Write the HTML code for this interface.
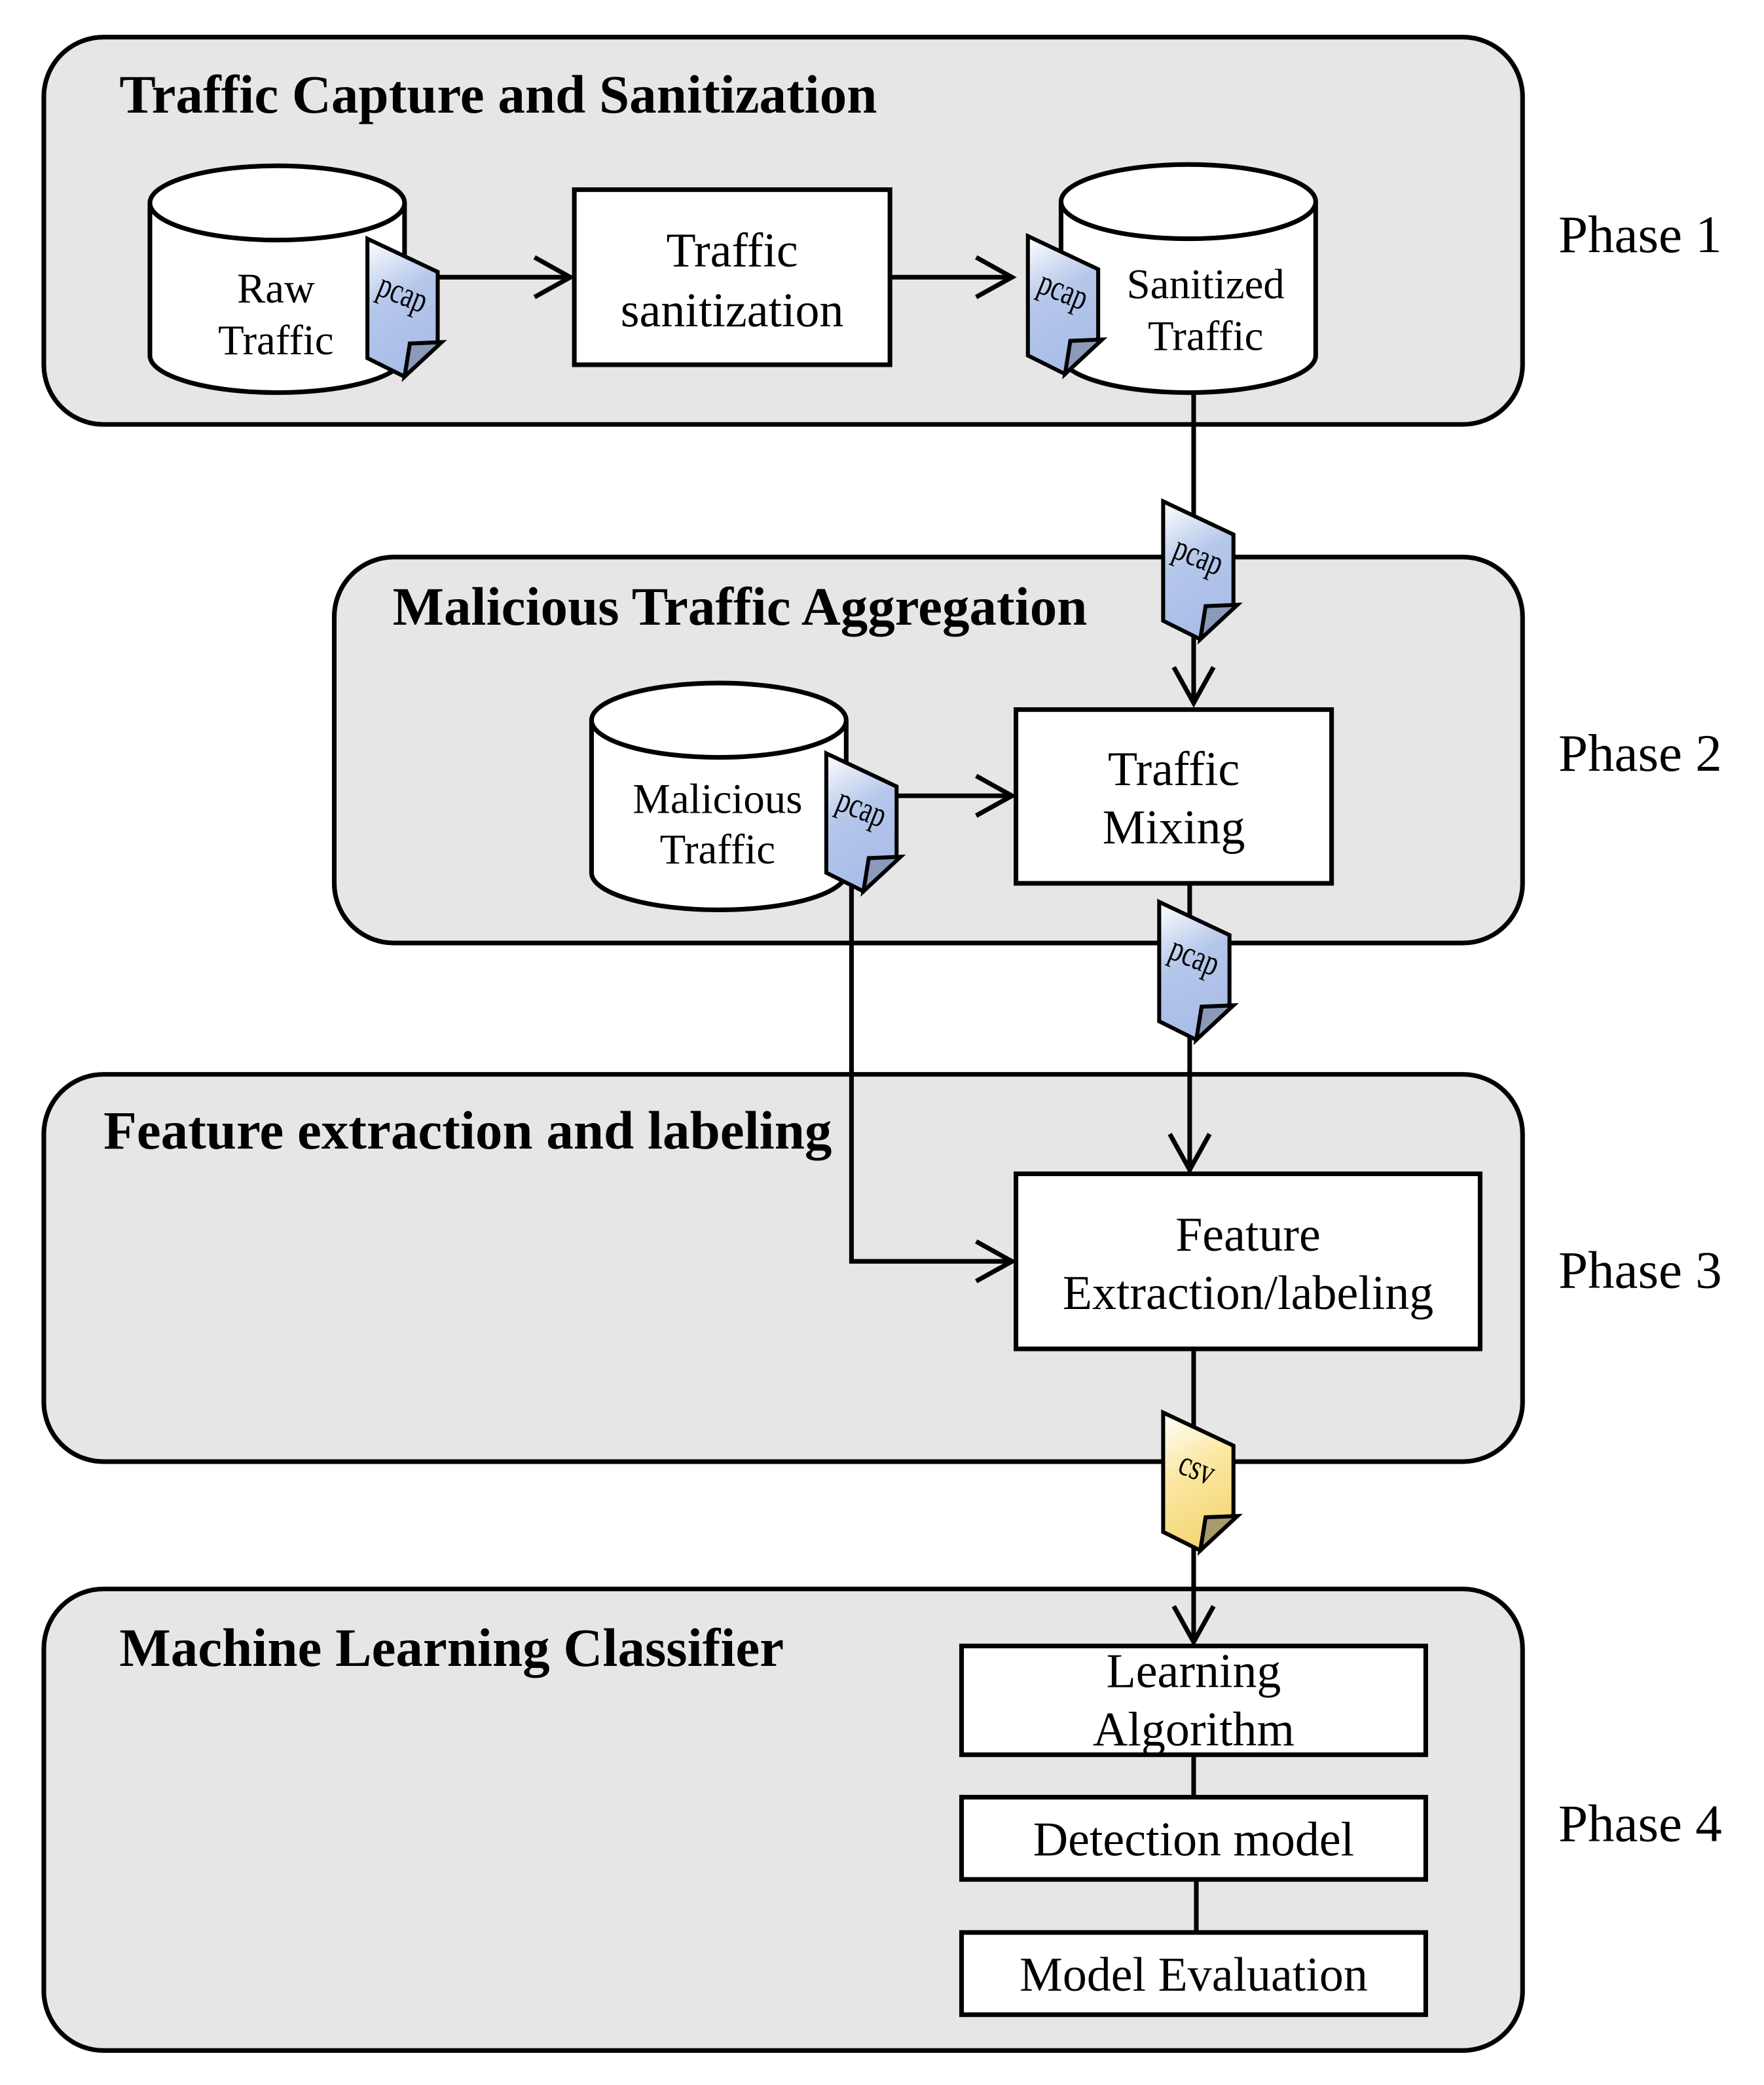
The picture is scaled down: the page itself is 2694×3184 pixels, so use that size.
<!DOCTYPE html>
<html><head><meta charset="utf-8"><style>
html,body{margin:0;padding:0;background:#fff}
svg{display:block}
text{font-family:"Liberation Serif",serif;fill:#000}
</style></head><body>
<svg width="2694" height="3184" viewBox="0 0 1330 1572" xmlns="http://www.w3.org/2000/svg">
<defs>
<linearGradient id="bl" x1="0" y1="0" x2="0.3" y2="1"><stop offset="0" stop-color="#ffffff"/><stop offset="0.5" stop-color="#b4c6ea"/><stop offset="1" stop-color="#a9bde8"/></linearGradient>
<linearGradient id="yl" x1="0" y1="0" x2="0.3" y2="1"><stop offset="0" stop-color="#ffffff"/><stop offset="0.5" stop-color="#fbe7a0"/><stop offset="1" stop-color="#f5d77a"/></linearGradient>
<g id="docb"><path d="M0,0 L53,25 L53,77 L28,104 L0,90 Z" fill="url(#bl)" stroke="#000" stroke-width="3"/><path d="M28,104 L32,79 L56,78 Z" fill="#8a9ab8" stroke="#000" stroke-width="3" stroke-linejoin="miter"/></g>
<g id="docy"><path d="M0,0 L53,25 L53,77 L28,104 L0,90 Z" fill="url(#yl)" stroke="#000" stroke-width="3"/><path d="M28,104 L32,79 L56,78 Z" fill="#a89b6a" stroke="#000" stroke-width="3"/></g>
</defs>
<g fill="#e6e6e6" stroke="#000" stroke-width="3.5">
<rect x="33" y="28" width="1115" height="292" rx="45"/>
<rect x="252" y="420" width="896" height="291" rx="45"/>
<rect x="33" y="810" width="1115" height="292" rx="45"/>
<rect x="33" y="1198" width="1115" height="348" rx="45"/>
</g>
<g font-weight="bold" font-size="41">
<text x="90" y="85">Traffic Capture and Sanitization</text>
<text x="296" y="471">Malicious Traffic Aggregation</text>
<text x="78" y="866">Feature extraction and labeling</text>
<text x="90" y="1256">Machine Learning Classifier</text>
</g>
<g font-size="40">
<text x="1175" y="190">Phase 1</text>
<text x="1175" y="581">Phase 2</text>
<text x="1175" y="971">Phase 3</text>
<text x="1175" y="1388">Phase 4</text>
</g>
<g stroke="#000" stroke-width="3.5" fill="none">
<path d="M330,209 H430 M403,194 L430,209 L403,224"/>
<path d="M672,209 H763 M736,194 L763,209 L736,224"/>
<path d="M900,295 V530 M885,503 L900,530 L915,503"/>
<path d="M677,600 H763 M736,585 L763,600 L736,615"/>
<path d="M642,660 V951 H763 M736,936 L763,951 L736,966"/>
<path d="M897,666 V882 M882,855 L897,882 L912,855"/>
<path d="M900,1017 V1238 M885,1211 L900,1238 L915,1211"/>
<path d="M900,1323 V1355 M902,1417 V1457"/>
</g>
<g fill="#fff" stroke="#000" stroke-width="3.5">
<path d="M113,153 V268 A96,28 0 0 0 305,268 V153"/><ellipse cx="209" cy="153" rx="96" ry="28"/>
<path d="M800,152 V268 A96,28 0 0 0 992,268 V152"/><ellipse cx="896" cy="152" rx="96" ry="28"/>
<path d="M446,543 V658 A96,28 0 0 0 638,658 V543"/><ellipse cx="542" cy="543" rx="96" ry="28"/>
</g>
<g font-size="32" text-anchor="middle">
<text x="208" y="228">Raw</text><text x="208" y="267">Traffic</text>
<text x="909" y="225">Sanitized</text><text x="909" y="264">Traffic</text>
<text x="541" y="613">Malicious</text><text x="541" y="651">Traffic</text>
</g>
<g fill="#fff" stroke="#000" stroke-width="3.5">
<rect x="433" y="143" width="238" height="132"/>
<rect x="766" y="535" width="238" height="131"/>
<rect x="766" y="885" width="350" height="132"/>
<rect x="725" y="1241" width="350" height="82"/>
<rect x="725" y="1355" width="350" height="62"/>
<rect x="725" y="1457" width="350" height="62"/>
</g>
<g font-size="36.5" text-anchor="middle">
<text x="552" y="201">Traffic</text><text x="552" y="246">sanitization</text>
<text x="885" y="592">Traffic</text><text x="885" y="636">Mixing</text>
<text x="941" y="943">Feature</text><text x="941" y="987">Extraction/labeling</text>
<text x="900" y="1272">Learning</text><text x="900" y="1316">Algorithm</text>
<text x="900" y="1399">Detection model</text>
<text x="900" y="1501">Model Evaluation</text>
</g>
<g font-size="25" font-style="normal">
<use href="#docb" x="277" y="180"/><text transform="translate(283,222) rotate(22) scale(0.8,1.1)">pcap</text>
<use href="#docb" x="775" y="178"/><text transform="translate(781,220) rotate(22) scale(0.8,1.1)">pcap</text>
<use href="#docb" x="877" y="378"/><text transform="translate(883,420) rotate(22) scale(0.8,1.1)">pcap</text>
<use href="#docb" x="623" y="568"/><text transform="translate(629,610) rotate(22) scale(0.8,1.1)">pcap</text>
<use href="#docb" x="874" y="680"/><text transform="translate(880,722) rotate(22) scale(0.8,1.1)">pcap</text>
<use href="#docy" x="877" y="1065"/><text transform="translate(887,1110) rotate(22) scale(0.8,1.1)">csv</text>
</g>
</svg>
</body></html>
